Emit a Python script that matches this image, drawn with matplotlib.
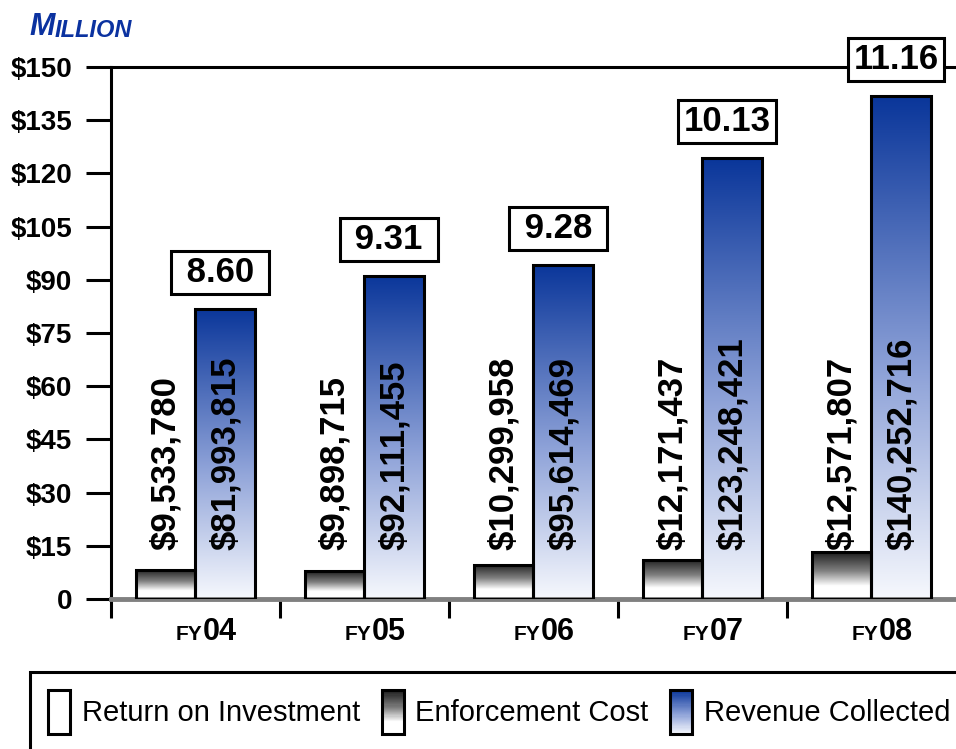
import matplotlib
matplotlib.use('Agg')
import matplotlib.pyplot as plt
import numpy as np
from matplotlib.colors import LinearSegmentedColormap
from matplotlib.patches import Rectangle
from matplotlib.legend_handler import HandlerBase

# data, $ million (bar heights as drawn in the chart)
years = ['04', '05', '06', '07', '08']
cost_bar = [8.2, 7.8, 9.6, 11.0, 13.2]
revenue = [81.8, 91.1, 94.2, 124.3, 141.8]
cost_labels = ['$9,533,780', '$9,898,715', '$10,299,958', '$12,171,437', '$12,571,807']
revenue_labels = ['$81,993,815', '$92,111,455', '$95,614,469', '$123,248,421', '$140,252,716']
roi = ['8.60', '9.31', '9.28', '10.13', '11.16']
yticks = [0, 15, 30, 45, 60, 75, 90, 105, 120, 135, 150]
ytick_labels = ['0', '$15', '$30', '$45', '$60', '$75', '$90', '$105', '$120', '$135', '$150']

plt.rcParams['font.family'] = ['Liberation Sans', 'DejaVu Sans']

cost_cmap = LinearSegmentedColormap.from_list(
    'cost', [(0, '#ffffff'), (0.28, '#ffffff'), (0.6, '#808080'), (1, '#1e1e1e')])
rev_cmap = LinearSegmentedColormap.from_list(
    'rev', [(0, '#f6f8fd'), (0.45, '#8ea2d8'), (1, '#0a369a')])


def grad_fill(ax, bar, cmap):
    x0, y0 = bar.get_xy()
    w, h = bar.get_width(), bar.get_height()
    ramp = np.linspace(0, 1, 256).reshape(-1, 1)
    im = ax.imshow(ramp, extent=[x0, x0 + w, y0, y0 + h], origin='lower',
                   aspect='auto', cmap=cmap, zorder=2)
    im.set_clip_path(bar)


class GradHandler(HandlerBase):
    def __init__(self, cmap):
        super().__init__()
        self.cmap = cmap

    def create_artists(self, legend, orig_handle, xdescent, ydescent,
                       width, height, fontsize, trans):
        arts = []
        n = 40
        for i in range(n):
            arts.append(Rectangle((-xdescent, -ydescent + height * i / n), width,
                                  height / n * 1.05, facecolor=self.cmap(i / (n - 1)),
                                  edgecolor='none', transform=trans))
        arts.append(Rectangle((-xdescent, -ydescent), width, height, facecolor='none',
                              edgecolor='black', lw=2.2, transform=trans))
        return arts


fig = plt.figure(figsize=(9.56, 7.49), dpi=100)
ax = fig.add_axes([0.1161, 0.2003, 0.8839, 0.7102])

x = np.arange(len(years))
w = 0.35
cost_bars = ax.bar(x - w / 2, cost_bar, w, facecolor='none', edgecolor='black',
                   linewidth=2.2, zorder=3)
rev_bars = ax.bar(x + w / 2, revenue, w, facecolor='none', edgecolor='black',
                  linewidth=2.2, zorder=3)
for b in cost_bars:
    grad_fill(ax, b, cost_cmap)
for b in rev_bars:
    grad_fill(ax, b, rev_cmap)

for i in range(len(years)):
    ax.text(x[i] - w / 2, 13.8, cost_labels[i].replace('$', r'\$'), rotation=90,
            ha='center', va='bottom', fontsize=25, fontweight='bold', zorder=4)
    ax.text(x[i] + w / 2, 13.8, revenue_labels[i].replace('$', r'\$'), rotation=90,
            ha='center', va='bottom', fontsize=25, fontweight='bold', zorder=4)
    lab = roi[i] if len(roi[i]) > 4 else ' ' + roi[i] + ' '
    ax.text(x[i] + w / 2 - 0.03, revenue[i] + 10.3, lab, ha='center', va='center',
            fontsize=25, fontweight='bold', zorder=6, clip_on=False,
            bbox=dict(boxstyle='square,pad=0.15', fc='white', ec='black', lw=2.2))
    ax.text(x[i] + 0.04, -0.078, 'FY', transform=ax.get_xaxis_transform(),
            ha='right', va='baseline', fontsize=15, fontweight='bold')
    ax.text(x[i] + 0.04, -0.078, years[i], transform=ax.get_xaxis_transform(),
            ha='left', va='baseline', fontsize=22, fontweight='bold')

ax.set_xlim(-0.5, 4.5)
ax.set_ylim(0, 150)
ax.set_yticks(yticks)
ax.set_yticklabels([t.replace('$', r'\$') for t in ytick_labels], fontsize=20,
                   fontweight='bold')
ax.tick_params(axis='y', direction='out', length=18, width=2.2, pad=10)
ax.set_xticks([])
ax.set_xticks([-0.5, 0.5, 1.5, 2.5, 3.5], minor=True)
ax.tick_params(axis='x', which='minor', direction='out', length=14, width=2.2)

ax.spines['right'].set_visible(False)
ax.spines['left'].set_linewidth(2.2)
ax.spines['top'].set_linewidth(2.2)
ax.spines['bottom'].set_color('#808080')
ax.spines['bottom'].set_linewidth(3.5)
ax.spines['bottom'].set_zorder(2.5)

# "MILLION" header
m = fig.text(0.031, 0.953, 'M', fontsize=22, fontweight='bold', style='italic',
             color='#0b32a0', va='baseline')
ax.annotate('ILLION', xy=(1, 0), xycoords=m, ha='left', va='bottom',
            fontsize=17, fontweight='bold', style='italic', color='#0b32a0',
            annotation_clip=False)

h_roi = Rectangle((0, 0), 1, 1, facecolor='white', edgecolor='black', lw=2.2)
h_cost = Rectangle((0, 0), 1, 1)
h_rev = Rectangle((0, 0), 1, 1)
leg = fig.legend([h_roi, h_cost, h_rev],
                 ['Return on Investment', 'Enforcement Cost', 'Revenue Collected'],
                 handler_map={h_cost: GradHandler(cost_cmap), h_rev: GradHandler(rev_cmap)},
                 loc='upper left', bbox_to_anchor=(30 / 956, 1 - 672 / 749), ncol=3,
                 fontsize=21, frameon=True, fancybox=False, framealpha=1,
                 edgecolor='black', borderpad=0.62, handletextpad=0.4,
                 columnspacing=0.75, handlelength=0.75, handleheight=1.95,
                 borderaxespad=0)
leg.get_frame().set_linewidth(2.2)

fig.savefig('out.png', dpi=100)
